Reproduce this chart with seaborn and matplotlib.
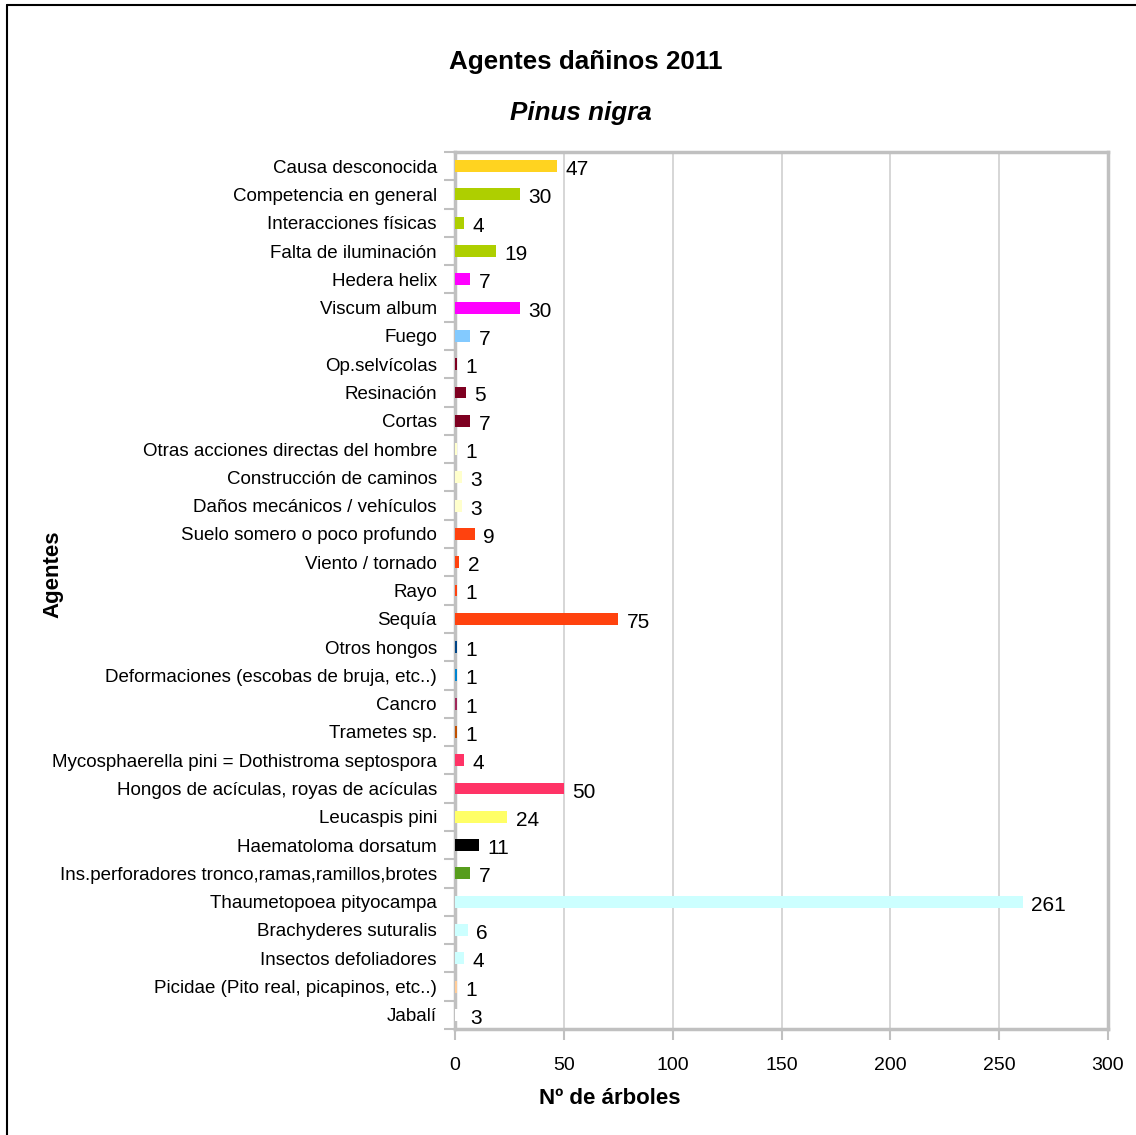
import matplotlib
matplotlib.use("Agg")
import matplotlib.pyplot as plt
import seaborn as sns
import pandas as pd
from matplotlib.lines import Line2D

agentes = [
    "Causa desconocida",
    "Competencia en general",
    "Interacciones físicas",
    "Falta de iluminación",
    "Hedera helix",
    "Viscum album",
    "Fuego",
    "Op.selvícolas",
    "Resinación",
    "Cortas",
    "Otras acciones directas del hombre",
    "Construcción de caminos",
    "Daños mecánicos / vehículos",
    "Suelo somero o poco profundo",
    "Viento / tornado",
    "Rayo",
    "Sequía",
    "Otros hongos",
    "Deformaciones (escobas de bruja, etc..)",
    "Cancro",
    "Trametes sp.",
    "Mycosphaerella pini = Dothistroma septospora",
    "Hongos de acículas, royas de acículas",
    "Leucaspis pini",
    "Haematoloma dorsatum",
    "Ins.perforadores tronco,ramas,ramillos,brotes",
    "Thaumetopoea pityocampa",
    "Brachyderes suturalis",
    "Insectos defoliadores",
    "Picidae (Pito real, picapinos, etc..)",
    "Jabalí",
]
arboles = [47, 30, 4, 19, 7, 30, 7, 1, 5, 7, 1, 3, 3, 9, 2, 1, 75,
           1, 1, 1, 1, 4, 50, 24, 11, 7, 261, 6, 4, 1, 3]
colores = [
    "#ffd320", "#aecf00", "#aecf00", "#aecf00", "#ff00ff", "#ff00ff",
    "#83caff", "#7e0021", "#7e0021", "#7e0021", "#ffffcc", "#ffffcc",
    "#ffffcc", "#ff420e", "#ff420e", "#ff420e", "#ff420e", "#004586",
    "#0084d1", "#a0285a", "#c05000", "#ff3366", "#ff3366", "#ffff66",
    "#000000", "#579d1c", "#ccffff", "#ccffff", "#ccffff", "#ffcc99",
    "#ffffff",
]
x_ticks = [0, 50, 100, 150, 200, 250, 300]

df = pd.DataFrame({"agente": agentes, "arboles": arboles})
paleta = dict(zip(agentes, colores))

sns.set_theme(style="white")
plt.rcParams["font.family"] = ["Liberation Sans", "DejaVu Sans"]
plt.rcParams["text.color"] = "black"
plt.rcParams["axes.labelcolor"] = "black"
plt.rcParams["xtick.color"] = "black"
plt.rcParams["ytick.color"] = "black"

fig = plt.figure(figsize=(11.36, 11.35), dpi=100)
ax = fig.add_axes([455 / 1136, 1 - 1029 / 1135, (1108 - 455) / 1136, (1029 - 152) / 1135])

sns.barplot(data=df, x="arboles", y="agente", hue="agente", palette=paleta,
            orient="h", width=0.42, legend=False, ax=ax, saturation=1,
            linewidth=0)
for patch in ax.patches:
    patch.set_zorder(3)

ax.set_xlim(0, 300)
ax.set_ylim(len(agentes) - 0.5, -0.5)
ax.set_xticks(x_ticks)
ax.set_xticklabels([str(t) for t in x_ticks], fontsize=14, color="black")
ax.set_yticks(range(len(agentes)))
ax.set_yticklabels(agentes, fontsize=13.5, color="black")
ax.set_yticks([i - 0.5 for i in range(len(agentes) + 1)], minor=True)

ax.tick_params(axis="y", which="major", length=0, pad=13)
ax.tick_params(axis="y", which="minor", length=8, width=1.5, color="#c0c0c0", left=True)
ax.tick_params(axis="x", which="major", length=8, width=1.5, color="#c0c0c0",
               pad=12, bottom=True)

ax.grid(axis="x", color="#d0d0d0", linewidth=1.2)
ax.grid(axis="y", visible=False)
ax.set_axisbelow(True)
for side in ["left", "right", "top", "bottom"]:
    ax.spines[side].set_visible(True)
    ax.spines[side].set_color("#c0c0c0")
    ax.spines[side].set_linewidth(2.5)

# value labels, set a little below the bar centre
for cont in ax.containers:
    labs = ax.bar_label(cont, labels=[f"{v:g}" for v in cont.datavalues],
                        padding=6, fontsize=15, color="black")
    for t in labs:
        dx, dy = t.xyann
        t.xyann = (dx, dy - 2.5)

ax.set_xlabel("")
ax.set_ylabel("")
fig.text(610 / 1136, 1 - 1099 / 1135, "Nº de árboles", ha="center",
         va="center", fontsize=16, fontweight="bold")
fig.text(53 / 1136, 1 - 574 / 1135, "Agentes", ha="center", va="center",
         fontsize=16, fontweight="bold", rotation=90)

fig.text(586 / 1136, 1 - 62 / 1135, "Agentes dañinos 2011", ha="center",
         va="center", fontsize=18.7, fontweight="bold")
fig.text(581 / 1136, 1 - 113 / 1135, "Pinus nigra", ha="center",
         va="center", fontsize=18.7, fontweight="bold", style="italic")

# outer frame on the left and top edges
fig.add_artist(Line2D([6.5 / 1136, 6.5 / 1136], [0, 1 - 5 / 1135],
                      transform=fig.transFigure, color="black", linewidth=1.5))
fig.add_artist(Line2D([6.5 / 1136, 1], [1 - 5 / 1135, 1 - 5 / 1135],
                      transform=fig.transFigure, color="black", linewidth=1.5))

fig.savefig("out.png", dpi=100, facecolor="white")
